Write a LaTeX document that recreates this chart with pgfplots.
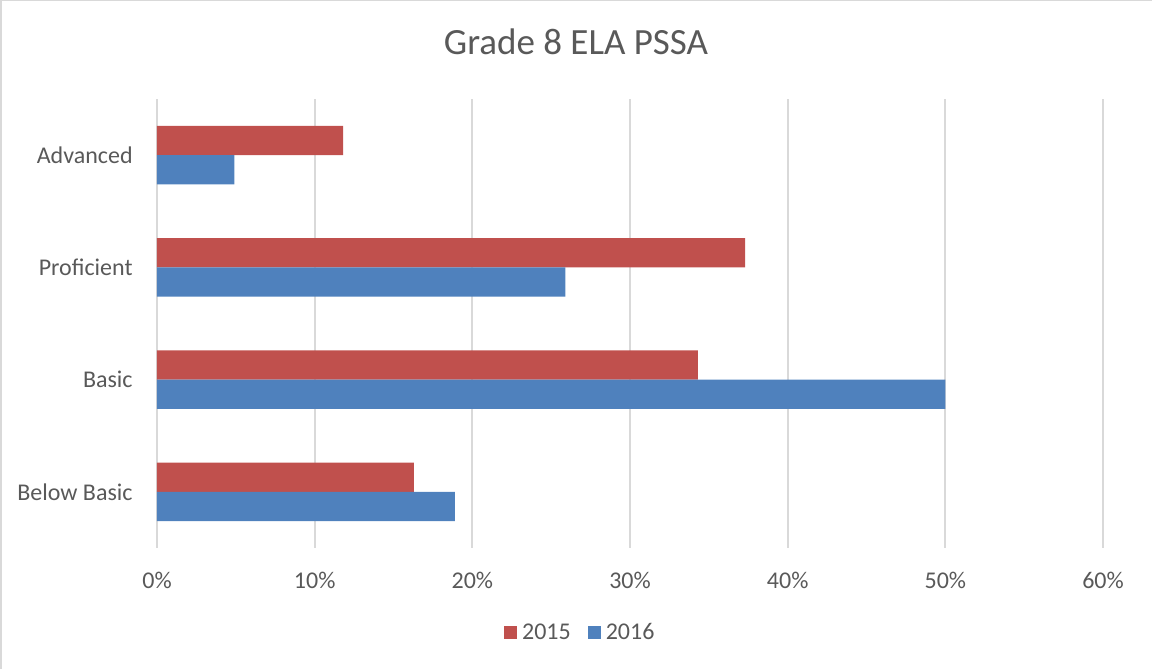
\documentclass[border=0pt]{standalone}
\usepackage{pgfplots}
\pgfplotsset{compat=1.18}
\usepackage{fontspec}
\setmainfont{Carlito}

\definecolor{c2015}{HTML}{C0504D}
\definecolor{c2016}{HTML}{4F81BD}
\definecolor{gridgray}{HTML}{D9D9D9}
\definecolor{txtgray}{HTML}{595959}

% 1 px of the reference = 0.5pt; plot area's lower left at (0,0)
\begin{document}
\begin{tikzpicture}
\path[use as bounding box] (-78.5pt,-60.5pt) rectangle (497.5pt,274pt);
\draw[gridgray, line width=1pt] (-78pt,-60.5pt) -- (-78pt,273.75pt) -- (497.5pt,273.75pt);

\begin{axis}[
    at={(0pt,0pt)}, anchor=south west,
    scale only axis,
    width=473pt, height=224.5pt,
    xmin=0, xmax=60,
    ymin=-0.5, ymax=3.5,
    xtick={0,10,20,30,40,50,60},
    xticklabels={0\%,10\%,20\%,30\%,40\%,50\%,60\%},
    ytick={0,1,2,3},
    yticklabels={Below Basic,Basic,Proficient,Advanced},
    axis line style={draw=none},
    major tick length=0pt,
    xmajorgrids,
    grid style={draw=gridgray, line width=0.85pt},
    tick label style={font=\fontsize{12}{14}\selectfont, text=txtgray},
    xticklabel style={anchor=base, yshift=-20pt},
    yticklabel style={anchor=east, inner sep=0pt, xshift=-12pt},
    legend columns=2,
    legend style={at={(0.449,-0.189)}, anchor=center, draw=none, fill=none,
        font=\fontsize{12}{14}\selectfont, text=txtgray,
        nodes={inner sep=2.5pt},
        /tikz/every even column/.append style={column sep=6pt}},
    legend image code/.code={\fill[#1] (0pt,-3.25pt) rectangle (6.5pt,3.25pt);},
]
% Grade 8 ELA PSSA shares, percent
\addplot[xbar, fill=c2015, draw=none, bar width=0.26, bar shift=0.13]
    coordinates {(16.3,0) (34.3,1) (37.3,2) (11.8,3)};
\addlegendentry{2015}
\addplot[xbar, fill=c2016, draw=none, bar width=0.26, bar shift=-0.13]
    coordinates {(18.9,0) (50.0,1) (25.9,2) (4.9,3)};
\addlegendentry{2016}
\end{axis}

\node[anchor=base, text=txtgray, font=\fontsize{18.5}{22}\selectfont]
    at (209.5pt,246.5pt) {Grade 8 ELA PSSA};
\end{tikzpicture}
\end{document}
